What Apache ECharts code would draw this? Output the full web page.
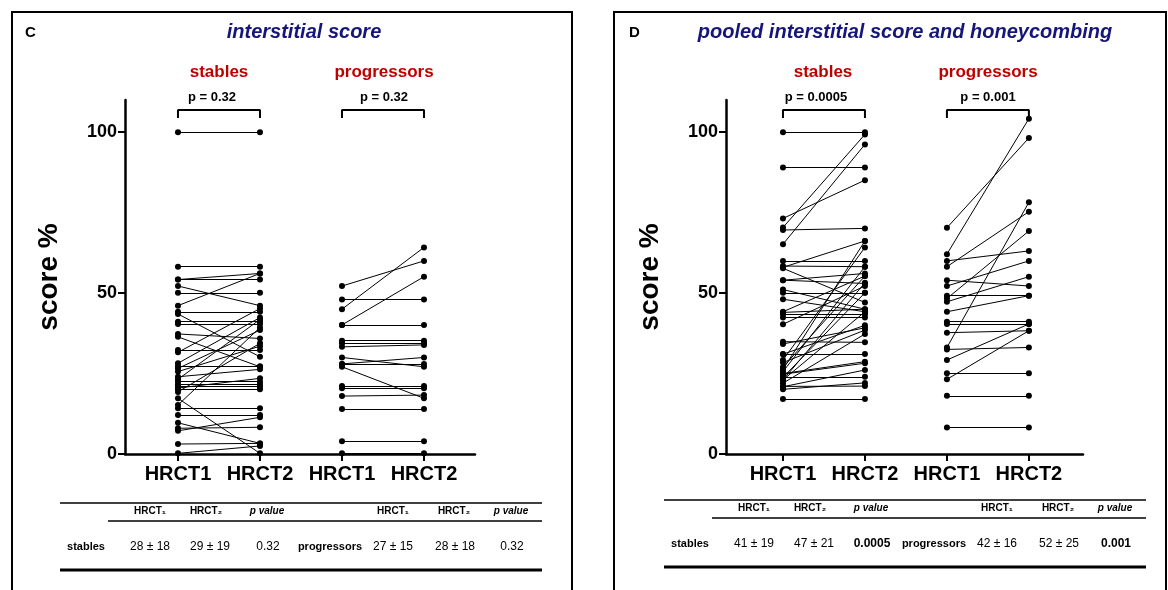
<!DOCTYPE html>
<html><head><meta charset="utf-8">
<script src="https://cdn.jsdelivr.net/npm/echarts@6/dist/echarts.min.js"></script>
<style>html,body{margin:0;padding:0;background:#fff}#c{width:1168px;height:590px}</style>
</head><body><div id="c"></div>
<script>
// ---------- data ----------
const categories = ['HRCT1', 'HRCT2', 'HRCT1', 'HRCT2'];
const catPos = [1, 2, 3, 4];
const yTicks = [0, 50, 100];

// Panel C: interstitial score (paired by index)
const cStablesH1 = [100, 58.2, 54.2, 54.2, 52.2, 50.1, 46.1, 44.2, 43.5, 41.1, 40.4, 37.3, 36.4, 32.3, 31.6, 28.2, 27.3, 26.6, 25.6, 24.0, 23.2, 22.5, 21.7, 20.9, 20.5, 20.1, 19.3, 17.3, 15.2, 14.2, 12.1, 9.7, 8.0, 7.2, 3.1, 0.2];
const cStablesH2 = [100, 58.2, 56.1, 54.2, 46.1, 50.1, 56.1, 44.2, 30.2, 41.1, 40.4, 35.9, 27.1, 32.3, 45.2, 42.4, 27.3, 38.5, 33.5, 26.3, 41.8, 22.5, 21.7, 20.9, 23.5, 20.1, 34.4, 0.2, 39.3, 14.2, 12.1, 3.3, 8.3, 11.4, 3.3, 2.5];
const cProgH1 = [52.2, 48.0, 45.0, 40.1, 40.1, 35.2, 34.4, 33.3, 30.0, 28.0, 28.0, 27.1, 21.1, 20.4, 18.0, 14.0, 4.0, 0.2];
const cProgH2 = [60.0, 48.0, 64.2, 55.1, 40.1, 35.2, 34.4, 33.9, 27.1, 30.0, 28.0, 17.3, 21.1, 20.4, 18.3, 14.0, 4.0, 0.2];

// Panel D: pooled interstitial score and honeycombing
const dStablesH1 = [100, 89, 73.2, 70.4, 69.6, 65.2, 60, 58.4, 58.0, 57.7, 54, 54, 51.1, 50.1, 48.1, 44.2, 44.0, 43.4, 42.4, 40.3, 34.9, 34.2, 31.1, 31.0, 29.2, 28.4, 27.0, 26.3, 25.6, 25.0, 24.8, 24.0, 23.8, 23.0, 23.0, 22.0, 21.0, 20.9, 20.1, 17.1];
const dStablesH2 = [100, 89, 85.1, 99.3, 70.1, 96.2, 60, 58.2, 66.2, 47.1, 56.1, 53.0, 45.0, 50.1, 44.2, 55.3, 45.0, 43.4, 42.4, 52.2, 34.7, 39.2, 31.1, 40.0, 64.2, 38.5, 55.3, 66.2, 58.2, 28.7, 28.2, 24.0, 50.1, 44.2, 53.2, 37.3, 21.1, 26.1, 22.1, 17.1];
const dProgH1 = [70.3, 62.1, 60.0, 58.2, 54.0, 52.2, 49.2, 48.3, 47.3, 44.2, 41.1, 40.4, 37.7, 33.1, 32.5, 29.2, 25.1, 23.2, 18.1, 8.2];
const dProgH2 = [98.2, 104.2, 63.1, 75.3, 52.2, 60.0, 49.2, 69.3, 55.1, 49.2, 41.1, 40.4, 38.3, 78.2, 33.1, 40.4, 25.1, 38.3, 18.1, 8.2];

// bracket levels (data units) and annotations
const bracketTop = 106.9, bracketLeg = 104.4;
const panelTitles = ['interstitial score', 'pooled interstitial score and honeycombing'];
const panelLetters = ['C', 'D'];
const pValuesC = ['p = 0.32', 'p = 0.32'];
const pValuesD = ['p = 0.0005', 'p = 0.001'];
const tableHeaders = ['HRCT\u2081', 'HRCT\u2082', 'p value'];
const tableRowC = ['28 \u00b1 18', '29 \u00b1 19', '0.32', '27 \u00b1 15', '28 \u00b1 18', '0.32'];
const tableRowD = ['41 \u00b1 19', '47 \u00b1 21', '0.0005', '42 \u00b1 16', '52 \u00b1 25', '0.001'];

// ---------- build ----------
const FF = "'Liberation Sans', Arial, sans-serif";
function linesData(h1, h2, x1, x2) {
  return h1.map((v, i) => ({ coords: [[x1, v], [x2, h2[i]]] }));
}
function pts(h1, h2, x1, x2) {
  return h1.map(v => [x1, v]).concat(h2.map(v => [x2, v]));
}
function panelSeries(gi, s1, s2, p1, p2) {
  const L = linesData(s1, s2, 1, 2).concat(linesData(p1, p2, 3, 4));
  const P = pts(s1, s2, 1, 2).concat(pts(p1, p2, 3, 4));
  return [
    { type: 'lines', coordinateSystem: 'cartesian2d', xAxisIndex: gi, yAxisIndex: gi, silent: true,
      lineStyle: { color: '#000', width: 1, opacity: 1 }, data: L, z: 2 },
    { type: 'scatter', xAxisIndex: gi, yAxisIndex: gi, symbolSize: 6, silent: true,
      itemStyle: { color: '#000', opacity: 1 }, data: P, z: 3 },
    { type: 'line', xAxisIndex: gi, yAxisIndex: gi, showSymbol: false, silent: true,
      lineStyle: { color: '#000', width: 2 }, z: 2,
      data: [[1, bracketLeg], [1, bracketTop], [2, bracketTop], [2, bracketLeg]] },
    { type: 'line', xAxisIndex: gi, yAxisIndex: gi, showSymbol: false, silent: true,
      lineStyle: { color: '#000', width: 2 }, z: 2,
      data: [[3, bracketLeg], [3, bracketTop], [4, bracketTop], [4, bracketLeg]] }
  ];
}
function xAx(gi, min, max) {
  return {
    type: 'value', gridIndex: gi, min: min, max: max,
    axisLine: { show: true, onZero: false, lineStyle: { color: '#000', width: 2.5 } },
    axisTick: { show: true, customValues: catPos, length: 7, lineStyle: { color: '#000', width: 2 } },
    axisLabel: { customValues: catPos, formatter: v => categories[Math.round(v) - 1] || '',
      color: '#000', fontWeight: 'bold', fontSize: 20, fontFamily: FF, margin: 10 },
    splitLine: { show: false }
  };
}
function yAx(gi) {
  return {
    type: 'value', gridIndex: gi, min: 0, max: 110,
    axisLine: { show: true, onZero: false, lineStyle: { color: '#000', width: 2.5 } },
    axisTick: { show: true, customValues: yTicks, length: 7, lineStyle: { color: '#000', width: 2 } },
    axisLabel: { customValues: yTicks, color: '#000', fontWeight: 'bold', fontSize: 18, fontFamily: FF, margin: 8 },
    splitLine: { show: false },
    name: 'score %', nameLocation: 'middle', nameGap: 62,
    nameTextStyle: { color: '#000', fontWeight: 'bold', fontSize: 28, fontFamily: FF }
  };
}
function txt(x, y, text, font, fill, align) {
  return { type: 'text', x: x, y: y, silent: true,
    style: { text: text, font: font, fill: fill || '#000', align: align || 'center', verticalAlign: 'middle' } };
}
function hline(x1, x2, y, w) {
  return { type: 'line', silent: true, shape: { x1: x1, y1: y, x2: x2, y2: y }, style: { stroke: '#000', lineWidth: w } };
}
const NAVY = '#15157a', RED = '#c00000';
const graphics = [];
function panelDecor(ox, oy, pi, pv, row, pBold) {
  // ox: x offset of panel D relative to C
  graphics.push(txt(25 + ox, 33, panelLetters[pi], 'bold 15px ' + FF, '#000', 'left'));
  graphics.push(txt((pi === 0 ? 304 : 905), 32, panelTitles[pi], 'italic bold 20px ' + FF, NAVY));
  graphics.push(txt(219 + ox, 72, 'stables', 'bold 17px ' + FF, RED));
  graphics.push(txt(384 + ox, 72, 'progressors', 'bold 17px ' + FF, RED));
  graphics.push(txt(212 + ox, 97, pv[0], 'bold 13px ' + FF));
  graphics.push(txt(384 + ox, 97, pv[1], 'bold 13px ' + FF));
  // table
  graphics.push(hline(60 + ox, 542 + ox, 503 + oy, 1.5));
  graphics.push(hline(108 + ox, 542 + ox, 521 + oy, 1.5));
  graphics.push(hline(60 + ox, 542 + ox, 570 + oy, 3));
  const hx = [150, 206, 267, 393, 454, 511];
  hx.forEach((x, i) => {
    const h = tableHeaders[i % 3];
    graphics.push(txt(x + ox, 511 + oy, h, (i % 3 === 2 ? 'italic ' : '') + 'bold 10px ' + FF));
  });
  graphics.push(txt(86 + ox, 547 + oy, 'stables', 'bold 11px ' + FF));
  graphics.push(txt(330 + ox, 547 + oy, 'progressors', 'bold 11px ' + FF));
  const rx = [150, 210, 268, 393, 455, 512];
  rx.forEach((x, i) => {
    const b = pBold && (i === 2 || i === 5);
    graphics.push(txt(x + ox, 547 + oy, row[i], (b ? 'bold ' : '') + '12px ' + FF));
  });
}
graphics.push({ type: 'rect', silent: true, shape: { x: 12, y: 12, width: 560, height: 620 }, style: { fill: 'none', stroke: '#000', lineWidth: 2 } });
graphics.push({ type: 'rect', silent: true, shape: { x: 614, y: 12, width: 552, height: 620 }, style: { fill: 'none', stroke: '#000', lineWidth: 2 } });
panelDecor(0, 0, 0, pValuesC, tableRowC, false);
panelDecor(604, -3, 1, pValuesD, tableRowD, true);

const chart = echarts.init(document.getElementById('c'), null, { renderer: 'canvas' });
chart.setOption({
  animation: false,
  backgroundColor: '#fff',
  grid: [
    { left: 125, top: 100, width: 350, height: 354 },
    { left: 726, top: 100, width: 357, height: 354 }
  ],
  xAxis: [xAx(0, 0.354, 4.622), xAx(1, 0.305, 4.66)],
  yAxis: [yAx(0), yAx(1)],
  series: panelSeries(0, cStablesH1, cStablesH2, cProgH1, cProgH2)
    .concat(panelSeries(1, dStablesH1, dStablesH2, dProgH1, dProgH2)),
  graphic: graphics
});
</script></body></html>
